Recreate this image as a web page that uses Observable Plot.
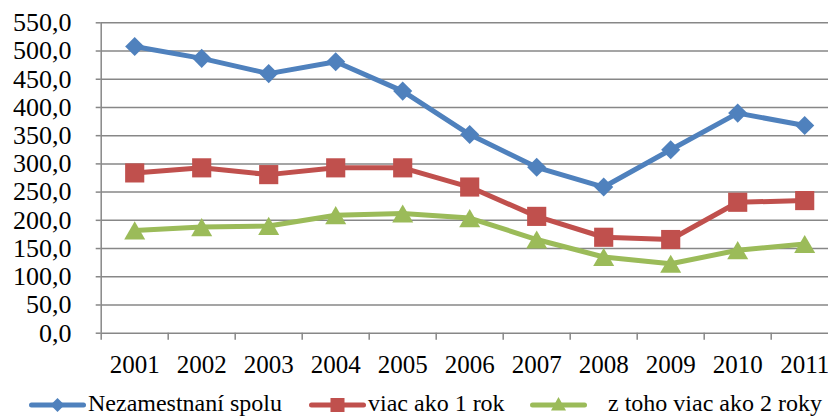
<!DOCTYPE html>
<html>
<head>
<meta charset="utf-8">
<script src="https://cdn.jsdelivr.net/npm/d3@7"></script>
<script src="https://cdn.jsdelivr.net/npm/@observablehq/plot@0.6"></script>
</head>
<body style="margin:0;padding:0;background:#fff;overflow:hidden;width:828px;height:419px;">
<div id="chart" style="position:relative;width:828px;height:385px;overflow:hidden;font-family:'Liberation Serif';"></div>
<div id="legend" style="position:relative;width:828px;height:34px;font-family:'Liberation Serif';font-size:24px;color:#000;"></div>
<script>
const years = [2001, 2002, 2003, 2004, 2005, 2006, 2007, 2008, 2009, 2010, 2011];
const total = [508, 487, 460, 481, 429, 352, 294, 259, 325, 390, 368];
const over1 = [284, 293, 281, 293, 293, 259, 207, 170, 166, 232, 235];
const over2 = [182, 188, 190, 209, 212, 204, 166, 135, 123, 147, 158];
const seriesNames = ["Nezamestnaní spolu", "viac ako 1 rok", "z toho viac ako 2 roky"];
const seriesColors = ["#4F81BD", "#C0504D", "#9BBB59"];
const seriesSymbols = ["diamond2", "square", "triangle"];
const yTicks = [0, 50, 100, 150, 200, 250, 300, 350, 400, 450, 500, 550];

const values = [total, over1, over2];
const data = values.flatMap((vals, s) => years.map((yr, i) => ({series: seriesNames[s], year: yr, value: vals[i]})));
const boundaries = [years[0] - 0.5, ...years.map(y => y + 0.5)];
const fmt = d => d.toFixed(1).replace(".", ",");
const grid = "#878787";
const FONT = "'Liberation Serif'";

const symbolR = [8.6, 10.8, 7.8];
const symbolDy = [0, 0, 3];

const seriesMarks = seriesNames.flatMap((name, s) => {
  const sub = data.filter(d => d.series === name);
  return [
    Plot.line(sub, {x: "year", y: "value", stroke: seriesColors[s], strokeWidth: 5, strokeLinejoin: "round", strokeLinecap: "round"}),
    Plot.dot(sub, {x: "year", y: "value", symbol: () => seriesSymbols[s], r: symbolR[s], fill: seriesColors[s], stroke: "none", dy: symbolDy[s]})
  ];
});

const chart = Plot.plot({
  width: 828,
  height: 385,
  marginTop: 22.3,
  marginBottom: 52.3,
  marginLeft: 100.7,
  marginRight: 0,
  style: `font-family: ${FONT}; font-size: 25px; background: #fff; color: #000; overflow: visible;`,
  x: {type: "linear", domain: [boundaries[0], boundaries[boundaries.length - 1]], range: [100.7, 837.7]},
  y: {domain: [0, 550]},
  symbol: {type: "identity"},
  marks: [
    Plot.ruleY(yTicks, {stroke: grid, strokeWidth: 1.5}),
    Plot.ruleX([boundaries[0]], {y1: 0, y2: 550, stroke: grid, strokeWidth: 1.5}),
    Plot.axisY({ticks: yTicks, tickSize: 5, tickPadding: 24.7, tickFormat: fmt, stroke: grid, fill: "#000", strokeWidth: 1.5, fontSize: 26, label: null}),
    Plot.axisX({ticks: boundaries, tickSize: 7, tickFormat: () => "", stroke: grid, strokeWidth: 1.5, label: null}),
    Plot.axisX({ticks: years, tickSize: 0, tickPadding: 22.5, tickFormat: d => String(d), fill: "#000", fontSize: 25, label: null}),
    ...seriesMarks
  ]
});
document.getElementById("chart").appendChild(chart);

// Legend (HTML below the SVG)
const legendPos = [
  {line: 29, text: 88},
  {line: 309, text: 368},
  {line: 530, text: 608}
];
const legend = document.getElementById("legend");
const symbolPaths = [
  (cx, cy) => `<path d="M${cx},${cy-7}L${cx+7},${cy}L${cx},${cy+7}L${cx-7},${cy}Z"/>`,
  (cx, cy) => `<rect x="${cx-7}" y="${cy-7}" width="14" height="14"/>`,
  (cx, cy) => `<path d="M${cx},${cy-8}L${cx+7.5},${cy+5.5}L${cx-7.5},${cy+5.5}Z"/>`
];
seriesNames.forEach((name, s) => {
  const item = document.createElement("div");
  item.style.cssText = `position:absolute;top:0;left:${legendPos[s].line}px;height:34px;`;
  const w = 57;
  const cx = w / 2, cy = 20;
  item.innerHTML =
    `<svg width="${w}" height="34" style="position:absolute;top:0;left:0;"><line x1="2.5" x2="${w - 2.5}" y1="${cy}" y2="${cy}" stroke="${seriesColors[s]}" stroke-width="5" stroke-linecap="round"/>` +
    `<g fill="${seriesColors[s]}">${symbolPaths[s](cx, cy)}</g></svg>` +
    `<span style="position:absolute;top:4px;left:${legendPos[s].text - legendPos[s].line}px;white-space:nowrap;line-height:28px;font-family:${FONT};font-size:24px;">${name}</span>`;
  legend.appendChild(item);
});
</script>
</body>
</html>
